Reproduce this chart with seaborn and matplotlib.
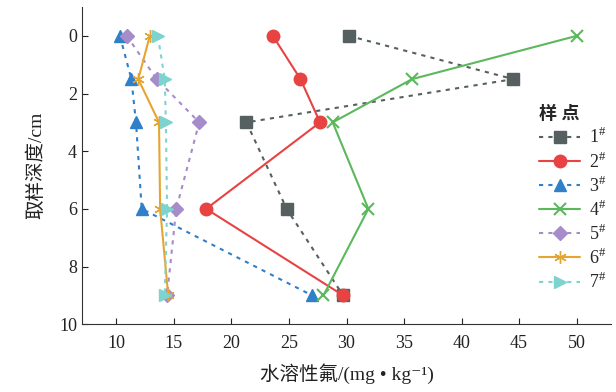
import matplotlib
matplotlib.use("Agg")
import matplotlib.pyplot as plt
import seaborn as sns
import pandas as pd

# sampling depths (cm) and water-soluble fluoride (mg/kg) per sample point
depth = [0, 1.5, 3, 6, 9]
s1 = [30.2, 44.5, 21.3, 24.8, 29.7]
s2 = [23.6, 26.0, 27.7, 17.8, 29.7]
s3 = [10.3, 11.3, 11.7, 12.2, 27.0]
s4 = [50.0, 35.7, 28.8, 31.9, 28.0]
s5 = [10.9, 13.5, 17.2, 15.2, 14.4]
s6 = [12.9, 11.9, 13.7, 13.8, 14.5]
s7 = [13.6, 14.2, 14.3, 14.4, 14.2]
labels = ["1$^{\\#}$", "2$^{\\#}$", "3$^{\\#}$", "4$^{\\#}$", "5$^{\\#}$", "6$^{\\#}$", "7$^{\\#}$"]
series = [s1, s2, s3, s4, s5, s6, s7]

styles = [
    dict(color="#566060", marker="s", dotted=True, ms=8),
    dict(color="#e84343", marker="o", dotted=False, ms=9),
    dict(color="#2f7fc9", marker="^", dotted=True, ms=9),
    dict(color="#5cb85c", marker="x", dotted=False, ms=8),
    dict(color="#a68cc9", marker="D", dotted=True, ms=7),
    dict(color="#e6a531", marker=(6, 2, 0), dotted=False, ms=9),
    dict(color="#7ed3cf", marker=">", dotted=True, ms=9),
]

df = pd.concat(
    [pd.DataFrame({"depth": depth, "F": vals, "site": lab}) for vals, lab in zip(series, labels)],
    ignore_index=True,
)

sns.set_style("ticks")
plt.rcParams["font.family"] = ["Liberation Serif", "Noto Sans CJK SC", "DejaVu Sans"]
plt.rcParams["mathtext.fontset"] = "custom"
plt.rcParams["mathtext.rm"] = "Liberation Serif"

fig = plt.figure(figsize=(6.16, 3.92), dpi=100)
ax = fig.add_axes([0.133, 0.173, 0.859, 0.809])

for lab, st in zip(labels, styles):
    sub = df[df["site"] == lab]
    sns.lineplot(
        data=sub, x="F", y="depth", sort=False, estimator=None, ax=ax,
        color=st["color"], marker=st["marker"], markersize=st["ms"],
        markeredgecolor=st["color"], markeredgewidth=1.5 if st["marker"] == "x" else 1,
        linewidth=1.5, label=lab,
    )
    if st["dotted"]:
        ax.lines[-1].set_dashes((2, 2.5))

ax.set_xlim(7, 53)
ax.set_ylim(10, -1)
ax.set_xticks([10, 15, 20, 25, 30, 35, 40, 45, 50])
ax.set_yticks([0, 2, 4, 6, 8, 10])
ax.tick_params(direction="in", length=4, labelsize=13, width=0.8, colors="#222222")
ax.tick_params(axis="x", pad=8)
for side in ["top", "right"]:
    ax.spines[side].set_visible(False)
for side in ["left", "bottom"]:
    ax.spines[side].set_linewidth(0.8)
    ax.spines[side].set_color("#333333")

ax.set_xlabel("水溶性氟/(mg • kg⁻¹)", fontsize=14, labelpad=8, color="#222222")
ax.set_ylabel("取样深度/cm", fontsize=14, labelpad=10, color="#222222")

leg = ax.legend(
    title="样 点", loc="upper left", bbox_to_anchor=(0.85, 0.71), frameon=False,
    fontsize=13, handlelength=2.3, handletextpad=0.5, labelspacing=0.22,
    borderaxespad=0,
)
leg.get_title().set_fontweight("bold")
leg.get_title().set_fontsize(13)
leg._legend_box.align = "left"

fig.savefig("out.png", dpi=100)
